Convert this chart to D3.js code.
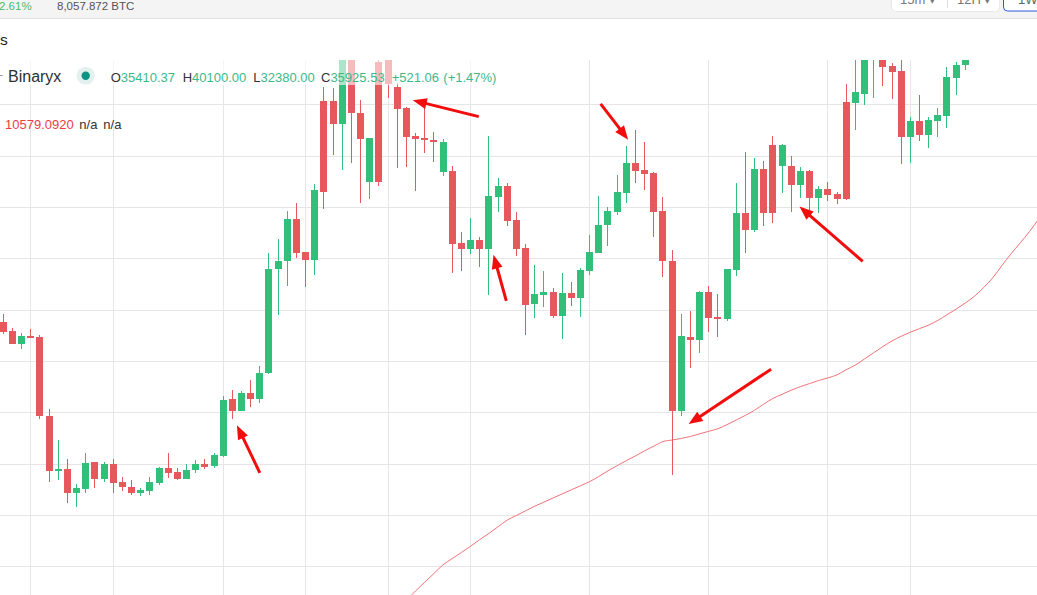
<!DOCTYPE html>
<html>
<head>
<meta charset="utf-8">
<script src="https://cdn.jsdelivr.net/npm/d3@7"></script>
<style>
  body { margin: 0; background: #fff; overflow: hidden; }
  svg { display: block; font-family: Arial, "Liberation Sans", sans-serif; }
</style>
</head>
<body>
<script>
(function(){

//weekly candles, one row per week: [open, high, low, close]
var ohlc = [
  [57.6, 59.2, 55.3, 55.7], [55.8, 56.4, 53.3, 53.4], [53.4, 55.5, 52.4, 54.9], [54.9, 56.2, 54.4, 54.5],
  [54.7, 55.1, 38.7, 39.2], [39.3, 40.7, 26.5, 28.6], [28.6, 34.6, 26.8, 29.0], [29.0, 30.9, 22.3, 24.3],
  [24.3, 26.0, 21.6, 25.3], [25.1, 32.1, 24.3, 30.1], [30.3, 30.4, 25.3, 27.1], [27.1, 30.3, 26.4, 29.9],
  [29.9, 30.9, 24.3, 26.3], [26.4, 27.4, 24.7, 25.4], [25.4, 26.8, 23.8, 24.3], [24.3, 25.3, 23.6, 24.9],
  [24.7, 27.3, 23.8, 26.4], [26.3, 29.4, 25.8, 29.2], [29.2, 32.1, 27.2, 28.2], [28.4, 29.2, 26.8, 27.1],
  [27.1, 29.9, 27.0, 28.8], [28.7, 30.7, 28.1, 29.9], [29.9, 30.9, 28.9, 29.4], [29.5, 32.1, 29.1, 31.6],
  [31.4, 43.2, 31.3, 42.4], [42.6, 44.4, 38.6, 40.3], [40.3, 44.2, 40.2, 43.7], [43.7, 46.2, 41.1, 42.5],
  [42.5, 49.0, 41.9, 47.6], [47.6, 71.1, 47.5, 67.9], [67.9, 73.8, 59.0, 69.5], [69.4, 79.2, 64.7, 77.7],
  [77.7, 80.7, 70.0, 71.1], [71.2, 71.3, 64.5, 69.7], [69.7, 84.5, 66.8, 83.3], [100.7, 103.4, 79.6, 83.0],
  [100.7, 103.2, 90.1, 96.2], [96.2, 112.0, 87.2, 110.0], [111.0, 113.0, 88.6, 98.4], [98.3, 100.9, 80.7, 93.3],
  [84.9, 93.4, 81.6, 93.4], [108.3, 109.5, 84.0, 84.9], [110.0, 111.0, 101.2, 103.9], [103.4, 104.1, 87.5, 99.1],
  [99.2, 99.5, 87.7, 93.7], [93.8, 94.5, 83.2, 93.3], [93.4, 99.2, 90.6, 93.0], [93.0, 94.6, 88.8, 92.6],
  [86.9, 93.3, 86.0, 92.7], [87.0, 87.9, 67.1, 72.8], [72.9, 75.1, 67.6, 71.8], [71.8, 77.9, 70.9, 73.6],
  [73.6, 74.2, 68.3, 71.8], [71.8, 93.8, 62.9, 82.2], [82.0, 85.6, 79.1, 84.1], [84.1, 84.7, 76.2, 77.3],
  [77.5, 79.0, 70.5, 71.8], [72.1, 72.8, 55.1, 60.9], [61.1, 68.6, 58.4, 63.1], [62.9, 67.5, 60.6, 63.4],
  [63.4, 64.3, 58.3, 58.8], [58.8, 67.1, 54.3, 63.3], [63.3, 65.4, 60.8, 62.3], [62.3, 68.1, 58.6, 67.7],
  [67.6, 74.6, 66.7, 71.2], [71.1, 82.2, 71.0, 76.5], [76.4, 79.9, 72.3, 79.3], [79.0, 86.2, 78.4, 82.9],
  [82.8, 91.9, 80.8, 88.6], [88.6, 95.0, 84.6, 87.1], [87.2, 92.7, 83.3, 86.5], [86.7, 86.8, 74.1, 79.1],
  [79.2, 82.0, 66.3, 69.4], [69.5, 71.6, 27.8, 40.3], [40.3, 59.2, 39.2, 54.9], [54.7, 59.7, 48.6, 54.0],
  [54.0, 63.6, 51.5, 63.4], [63.4, 64.6, 55.7, 58.4], [58.6, 63.1, 54.7, 58.2], [58.2, 68.0, 57.7, 67.9],
  [67.7, 84.7, 66.6, 78.8], [78.8, 90.7, 71.1, 75.5], [75.5, 89.5, 75.2, 87.4], [87.4, 88.9, 76.3, 78.9],
  [92.1, 93.9, 76.9, 78.9], [87.9, 92.3, 82.7, 92.1], [88.0, 89.9, 79.1, 84.2], [84.2, 87.7, 81.7, 87.0],
  [87.1, 87.2, 78.1, 81.8], [81.8, 84.0, 78.9, 83.5], [83.5, 84.8, 81.2, 82.3], [82.5, 83.0, 80.5, 81.6],
  [100.5, 104.0, 81.4, 81.6], [100.3, 109.0, 95.0, 102.3], [102.0, 112.0, 99.9, 110.0], [110.5, 115.0, 101.2, 114.0],
  [114.0, 115.0, 103.6, 107.3], [107.5, 108.1, 101.1, 106.3], [106.5, 110.0, 88.3, 93.7], [93.7, 97.5, 88.5, 96.8],
  [96.8, 101.8, 92.9, 94.1], [94.1, 97.5, 91.4, 97.0], [96.8, 99.3, 93.7, 97.9], [97.8, 107.2, 95.3, 105.3],
  [105.2, 108.2, 101.8, 107.7], [107.6, 110.0, 106.7, 109.5]
];

//moving average, first value belongs to week maStart
var maStart = 44;
var ma = [
  3.4, 5.2, 6.9, 8.6, 10.3, 11.5, 12.7, 13.9, 15.2, 16.4, 17.7, 19.0, 19.9, 20.8, 21.7, 22.5,
  23.3, 24.1, 24.9, 25.7, 26.5, 27.5, 28.6, 29.6, 30.6, 31.5, 32.5, 33.4, 34.3, 34.6, 34.9, 35.3,
  35.8, 36.3, 36.8, 37.6, 38.5, 39.4, 40.4, 41.6, 42.7, 43.5, 44.3, 45.0, 45.6, 46.2, 46.7, 47.3,
  48.3, 49.2, 50.4, 51.6, 52.8, 53.9, 54.8, 55.6, 56.3, 57.0, 57.9, 59.0, 60.1, 61.3, 62.6, 64.3,
  66.2, 68.6, 70.9, 73.0, 75.2, 77.6
];

var timeTicks = [3, 12, 24, 33, 42, 51, 64, 77, 90, 99]; //week index of each time gridline
var priceTicks = [10, 20, 30, 40, 50, 60, 70, 80, 90, 100];

//hand drawn arrows: [fromWeek, fromPrice, toWeek, toPrice]
var arrows = [
  [28.0, 28.2, 25.5, 37.5],
  [51.9, 97.6, 44.7, 100.8],
  [54.9, 61.7, 53.5, 70.7],
  [65.2, 100.1, 68.2, 93.1],
  [83.8, 48.4, 74.8, 37.7],
  [93.8, 69.4, 86.9, 80.1]
];

var legendKeys = ["O", "H", "L", "C", "", ""];
var legendVals = ["35410.37", "40100.00", "32380.00", "35925.53", "+521.06", "(+1.47%)"];
var maLegend = ["10579.0920", "n/a", "n/a"];

var width = 1037, height = 595, paneTop = 60;
var upColor = "#31bf79", downColor = "#e5585b";

var svg = d3.select("body").append("svg")
    .attr("width", width)
    .attr("height", height);

//top bar
svg.append("rect").attr("width", width).attr("height", 18.5).attr("fill", "#f4f4f4");
svg.append("line").attr("x1", 0).attr("x2", width).attr("y1", 18.5).attr("y2", 18.5)
    .attr("stroke", "#e2e2e2");
svg.append("text").attr("x", -1).attr("y", 9.5).attr("font-size", 11.5)
    .attr("fill", "#4cbb6f").text("2.61%");
svg.append("text").attr("x", 57).attr("y", 9.5).attr("font-size", 11.5)
    .attr("fill", "#555").text("8,057.872 BTC");

svg.append("rect").attr("x", 891.5).attr("y", -6).attr("width", 108).attr("height", 17.5)
    .attr("rx", 4).attr("fill", "#fff").attr("stroke", "#e9e9e9");
svg.append("line").attr("x1", 947.5).attr("x2", 947.5).attr("y1", 0).attr("y2", 8)
    .attr("stroke", "#ddd");
svg.append("text").attr("x", 900).attr("y", 4).attr("font-size", 13).attr("fill", "#777").text("15m ▾");
svg.append("text").attr("x", 957).attr("y", 4).attr("font-size", 13).attr("fill", "#777").text("12H ▾");
svg.append("rect").attr("x", 1003.5).attr("y", -6).attr("width", 40).attr("height", 17)
    .attr("rx", 4).attr("fill", "#fff").attr("stroke", "#2a5bd7");
svg.append("text").attr("x", 1018).attr("y", 4).attr("font-size", 13).attr("fill", "#666").text("1W");

svg.append("text").attr("x", 0).attr("y", 45).attr("font-size", 15.5).attr("fill", "#1e1e1e").text("s");

//scales
var x = d3.scaleLinear().domain([0, 105]).range([3.3, 965.3]);
var y = d3.scaleLinear().domain([10, 100]).range([566.3, 104.3]);
var bw = 7;
function cx(i){ return Math.round(x(i) - bw / 2) + bw / 2; }

svg.append("clipPath").attr("id", "pane")
  .append("rect").attr("x", 0).attr("y", paneTop).attr("width", width).attr("height", height - paneTop);

var pane = svg.append("g").attr("clip-path", "url(#pane)");

//grid
pane.selectAll(".vgrid")
    .data(timeTicks)
    .enter()
    .append("line")
    .attr("class", "vgrid")
    .attr("x1", function(d){ return cx(d); })
    .attr("x2", function(d){ return cx(d); })
    .attr("y1", paneTop).attr("y2", height)
    .attr("stroke", "#e6e6e6");

pane.selectAll(".hgrid")
    .data(priceTicks)
    .enter()
    .append("line")
    .attr("class", "hgrid")
    .attr("x1", 0).attr("x2", width)
    .attr("y1", function(d){ return Math.round(y(d)) + 0.5; })
    .attr("y2", function(d){ return Math.round(y(d)) + 0.5; })
    .attr("stroke", "#e6e6e6");

//moving average
var maLine = d3.line()
    .x(function(d, k){ return x(maStart + k); })
    .y(function(d){ return y(d); })
    .curve(d3.curveMonotoneX);

pane.append("path")
    .datum(ma)
    .attr("d", maLine)
    .attr("fill", "none")
    .attr("stroke", "#f07378")
    .attr("stroke-width", 1);

//candles
var candles = pane.selectAll(".candle")
    .data(ohlc)
    .enter()
    .append("g")
    .attr("class", "candle")
    .attr("fill", function(d){ return d[3] >= d[0] ? upColor : downColor; })
    .attr("stroke", function(d){ return d[3] >= d[0] ? upColor : downColor; });

candles.append("line")
    .attr("x1", function(d, i){ return cx(i); })
    .attr("x2", function(d, i){ return cx(i); })
    .attr("y1", function(d){ return Math.round(y(d[1])); })
    .attr("y2", function(d){ return Math.round(y(d[2])); })
    .attr("stroke-width", 1);

candles.append("rect")
    .attr("stroke", "none")
    .attr("x", function(d, i){ return cx(i) - bw / 2; })
    .attr("width", bw)
    .attr("y", function(d){ return Math.round(y(Math.max(d[0], d[3]))); })
    .attr("height", function(d){
      var top = Math.round(y(Math.max(d[0], d[3]))), bot = Math.round(y(Math.min(d[0], d[3])));
      return Math.max(2, bot - top);
    });

//legend with its translucent backing
svg.append("rect").attr("x", 0).attr("y", paneTop).attr("width", 500).attr("height", 25)
    .attr("fill", "#fff").attr("opacity", 0.6);

svg.append("line").attr("x1", 0).attr("x2", 2.7).attr("y1", 75.5).attr("y2", 75.5).attr("stroke", "#999");
svg.append("text").attr("x", 8).attr("y", 81.5).attr("font-size", 16).attr("fill", "#2b2f36").text("Binaryx");
svg.append("circle").attr("cx", 85.7).attr("cy", 75.7).attr("r", 9).attr("fill", "#e2f1ee");
svg.append("circle").attr("cx", 85.7).attr("cy", 75.7).attr("r", 4.2).attr("fill", "#0b9384");

var legendX = [110.7, 182.7, 253.3, 321, 391.7, 443.3];
var lg = svg.selectAll(".lg")
    .data(legendVals)
    .enter()
    .append("text")
    .attr("class", "lg")
    .attr("x", function(d, i){ return legendX[i]; })
    .attr("y", 82)
    .attr("font-size", 13);
lg.append("tspan").attr("fill", "#333").text(function(d, i){ return legendKeys[i]; });
lg.append("tspan").attr("fill", "#3bb98a").text(function(d){ return d; });

var maX = [5, 79.3, 103.3];
svg.selectAll(".malg")
    .data(maLegend)
    .enter()
    .append("text")
    .attr("class", "malg")
    .attr("x", function(d, i){ return maX[i]; })
    .attr("y", 129)
    .attr("font-size", 13)
    .attr("fill", function(d, i){ return i == 0 ? "#ec3c3f" : "#333"; })
    .text(function(d){ return d; });

//arrows
var headLen = 14, headHalf = 5.5;
arrows.forEach(function(a){
  var x0 = x(a[0]), y0 = y(a[1]), x1 = x(a[2]), y1 = y(a[3]);
  var dx = x1 - x0, dy = y1 - y0, len = Math.sqrt(dx * dx + dy * dy);
  var ux = dx / len, uy = dy / len;
  var bx = x1 - ux * headLen, by = y1 - uy * headLen;
  svg.append("line")
      .attr("x1", x0).attr("y1", y0)
      .attr("x2", bx + ux * 2).attr("y2", by + uy * 2)
      .attr("stroke", "#f20d0d").attr("stroke-width", 3);
  svg.append("polygon")
      .attr("points", [[x1, y1], [bx - uy * headHalf, by + ux * headHalf], [bx + uy * headHalf, by - ux * headHalf]]
        .map(function(p){ return p.join(","); }).join(" "))
      .attr("fill", "#f20d0d");
});

})();
</script>
</body>
</html>
